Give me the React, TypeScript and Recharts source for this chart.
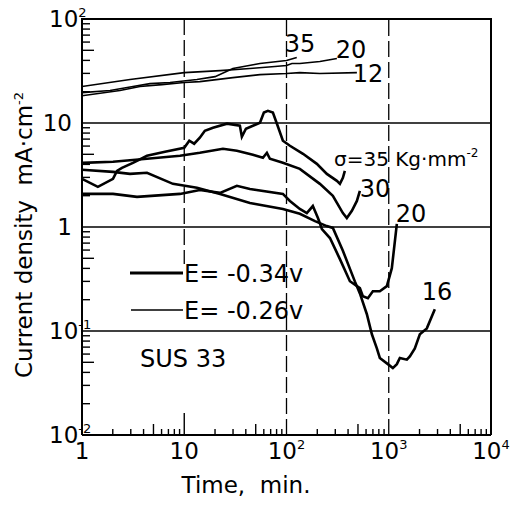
import React from 'react'
import { LineChart, Line, XAxis, YAxis, ReferenceLine } from 'recharts'

// top group, E = -0.26 V (thin)
const t35 = [1, 1.88, 3.15, 4.62, 7.25, 13.3, 20, 29.9, 55, 100, 126]
const i35 = [19.6, 20.5, 22.4, 23.9, 24.5, 26.2, 27.9, 33.4, 37.3, 39.9, 42.7]
const t20a = [1, 2.95, 10, 22.4, 43.9, 77, 100, 113, 135, 212, 311]
const i20a = [22.4, 26.2, 30.5, 31.9, 33.4, 34.9, 35.7, 37.3, 37.3, 39, 41.7]
const t12 = [1, 2.35, 3.69, 6.05, 10, 14.2, 29.9, 55, 100, 135, 212, 488]
const i12 = [18.3, 20.5, 22.4, 23.4, 24.5, 25, 27.3, 29.2, 29.9, 30.5, 29.9, 30.5]

// lower group, E = -0.34 V (thick)
const tS35 = [1, 1.43, 2.01, 2.2, 2.46, 3.15, 4.32, 6.48, 10, 11.2, 12.5, 14.2, 15.9, 19.1, 26.2, 35, 36.6, 40.1, 55, 60.1, 65.8, 73.6, 80.6, 92.2, 108, 145, 198, 248, 311, 333, 356, 372]
const iS35 = [2.9, 2.43, 2.9, 3.47, 3.71, 4.14, 4.84, 5.29, 5.78, 6.75, 6.32, 7.22, 8.43, 9.01, 9.85, 9.42, 7.38, 8.81, 10.07, 12.6, 13.1, 12.6, 9.85, 6.75, 6.04, 5.06, 4.05, 3.24, 2.78, 2.6, 2.97, 3.47]
const tS30 = [1, 2.01, 4.32, 9.08, 14.2, 23.9, 32.7, 46.9, 58.8, 64.3, 68.8, 92.2, 135, 212, 284, 356, 389, 436, 488, 522]
const iS30 = [4.14, 4.24, 4.53, 4.84, 5.17, 5.65, 5.41, 4.95, 4.63, 5.17, 4.53, 4.14, 3.62, 2.6, 1.99, 1.36, 1.22, 1.43, 1.78, 2.22]
const tS20 = [1, 2.01, 3.45, 9.08, 14.2, 22.4, 32.7, 43.9, 92.2, 108, 135, 158, 181, 203, 222, 266, 333, 417, 522, 558, 625, 699, 818, 958, 1072, 1200]
const iS20 = [2.08, 2.08, 1.95, 2.08, 2.27, 2.13, 2.49, 2.32, 2.08, 1.78, 1.49, 1.36, 1.59, 1.22, 0.956, 0.783, 0.491, 0.301, 0.258, 0.216, 0.207, 0.241, 0.241, 0.27, 0.402, 1.07]
const tS16 = [1, 2.01, 2.95, 4.32, 7.75, 13.3, 22.4, 43.9, 92.2, 135, 190, 248, 284, 356, 466, 522, 611, 684, 765, 818, 980, 1097, 1200, 1284, 1503, 1608, 1799, 2014, 2357, 2822]
const iS16 = [3.55, 3.39, 3.24, 3.32, 2.6, 2.38, 2.08, 1.7, 1.49, 1.34, 1.14, 1.02, 0.98, 0.59, 0.3, 0.23, 0.145, 0.093, 0.068, 0.055, 0.048, 0.044, 0.048, 0.055, 0.053, 0.057, 0.068, 0.093, 0.106, 0.162]

const steps = [1, 2, 3, 4, 5, 6, 7, 8, 9]
const xTicks = [...[1, 10, 100, 1000].flatMap((d) => steps.map((s) => d * s)), 10000]
const yTicks = [...[0.01, 0.1, 1, 10].flatMap((d) => steps.map((s) => +(d * s).toPrecision(3))), 100]
const xLabels: Record<string, string[]> = { '1': ['1', ''], '10': ['10', ''], '100': ['10', '2'], '1000': ['10', '3'], '10000': ['10', '4'] }
const yLabels: Record<string, string[]> = { '100': ['10', '2'], '10': ['10', ''], '1': ['1', ''], '0.1': ['10', '-1'], '0.01': ['10', '-2'] }

const font = "'DejaVu Sans', sans-serif"

const zip = (t: number[], v: number[]) => t.map((x, k) => ({ t: x, v: v[k] }))

function lead(v: number) {
  const s = v.toPrecision(3)
  const digit = s.replace(/[^1-9]/g, '')[0]
  return Number(digit)
}

function XTick(p: any) {
  const v = p.payload.value
  const lab = xLabels[String(v)]
  const m = lead(v)
  const len = lab ? (v === 10 ? 22 : 0) : m === 5 ? 11 : 6
  return (
    <g>
      <line x1={p.x} x2={p.x} y1={p.y} y2={p.y - len} stroke="#000" strokeWidth={1.4} />
      {lab ? (
        <text x={p.x} y={p.y + 24} textAnchor="middle" fontSize={23} fontFamily={font} fill="#000">
          {lab[0]}
          {lab[1] ? <tspan dy={-10} fontSize={13}>{lab[1]}</tspan> : null}
        </text>
      ) : null}
    </g>
  )
}

function YTick(p: any) {
  const v = p.payload.value
  const lab = yLabels[String(v)]
  const m = lead(v)
  const len = lab ? 0 : m === 5 ? 12 : 8
  return (
    <g>
      <line x1={p.x} x2={p.x + len} y1={p.y} y2={p.y} stroke="#000" strokeWidth={1.4} />
      {lab ? (
        <text
          x={lab[1] ? p.x - 33 : p.x - 10}
          y={p.y + 8}
          textAnchor={lab[1] ? 'start' : 'end'}
          fontSize={23}
          fontFamily={font}
          fill="#000"
        >
          {lab[0]}
          {lab[1] ? <tspan dy={-10} fontSize={13}>{lab[1]}</tspan> : null}
        </text>
      ) : null}
    </g>
  )
}

const thin = [zip(t35, i35), zip(t20a, i20a), zip(t12, i12)]
const thick = [zip(tS35, iS35), zip(tS30, iS30), zip(tS20, iS20), zip(tS16, iS16)]

function Notes() {
  return (
    <g fontFamily={font} fill="#000">
      <line x1={81} x2={492} y1={19} y2={19} stroke="#000" strokeWidth={2} />
      <text x={300} y={52} textAnchor="middle" fontSize={24}>35</text>
      <text x={351} y={58} textAnchor="middle" fontSize={24}>20</text>
      <text x={368} y={82} textAnchor="middle" fontSize={24}>12</text>
      <text x={334} y={166} fontSize={20}>
        σ=35 Kg·mm<tspan dy={-9} fontSize={12}>-2</tspan>
      </text>
      <text x={375} y={197} textAnchor="middle" fontSize={24}>30</text>
      <text x={411} y={222} textAnchor="middle" fontSize={24}>20</text>
      <text x={437} y={300} textAnchor="middle" fontSize={24}>16</text>
      <line x1={130} x2={183} y1={273} y2={273} stroke="#000" strokeWidth={3} />
      <text x={184} y={282} fontSize={24}>E= -0.34v</text>
      <line x1={131} x2={183} y1={310} y2={310} stroke="#000" strokeWidth={1.6} />
      <text x={184} y={319} fontSize={24}>E= -0.26v</text>
      <text x={140} y={367} fontSize={24}>SUS 33</text>
      <text x={246} y={493} textAnchor="middle" fontSize={23} style={{ whiteSpace: 'pre' }}>
        Time,  min.
      </text>
      <text transform="translate(32,235) rotate(-90)" textAnchor="middle" fontSize={23} style={{ whiteSpace: 'pre' }}>
        Current density  mA·cm<tspan dy={-9} fontSize={13}>-2</tspan>
      </text>
    </g>
  )
}

export default function App() {
  return (
    <div style={{ position: 'absolute', left: 0, top: 0, width: 511, height: 505, background: '#fff' }}>
      <LineChart width={511} height={505} margin={{ top: 19, right: 20, bottom: 0, left: 0 }}>
        {[10, 1, 0.1].map((g) => (
          <ReferenceLine key={'h' + g} y={g} stroke="#000" strokeWidth={1.3} />
        ))}
        <ReferenceLine segment={[{ x: 10, y: 100 }, { x: 10, y: 0.44 }]} stroke="#000" strokeWidth={1.3} strokeDasharray="16 5" />
        <ReferenceLine x={100} stroke="#000" strokeWidth={1.3} strokeDasharray="16 5" />
        <ReferenceLine x={1000} stroke="#000" strokeWidth={1.3} strokeDasharray="16 5" />
        <ReferenceLine x={10000} stroke="#000" strokeWidth={2} />
        {thin.map((d, k) => (
          <Line key={'a' + k} data={d} dataKey="v" type="linear" stroke="#000" strokeWidth={1.6} dot={false} isAnimationActive={false} />
        ))}
        {thick.map((d, k) => (
          <Line key={'b' + k} data={d} dataKey="v" type="linear" stroke="#000" strokeWidth={2.6} dot={false} isAnimationActive={false} />
        ))}
        <XAxis
          dataKey="t"
          type="number"
          scale="log"
          domain={[1, 10000]}
          ticks={xTicks}
          interval={0}
          allowDataOverflow
          height={70}
          tickSize={0}
          tickMargin={0}
          tickLine={false}
          tick={<XTick />}
          axisLine={{ stroke: '#000', strokeWidth: 2 }}
        />
        <YAxis
          dataKey="v"
          type="number"
          scale="log"
          domain={[0.01, 100]}
          ticks={yTicks}
          interval={0}
          allowDataOverflow
          width={82}
          tickSize={0}
          tickMargin={0}
          tickLine={false}
          tick={<YTick />}
          axisLine={{ stroke: '#000', strokeWidth: 2 }}
        />
        <Notes />
      </LineChart>
    </div>
  )
}
